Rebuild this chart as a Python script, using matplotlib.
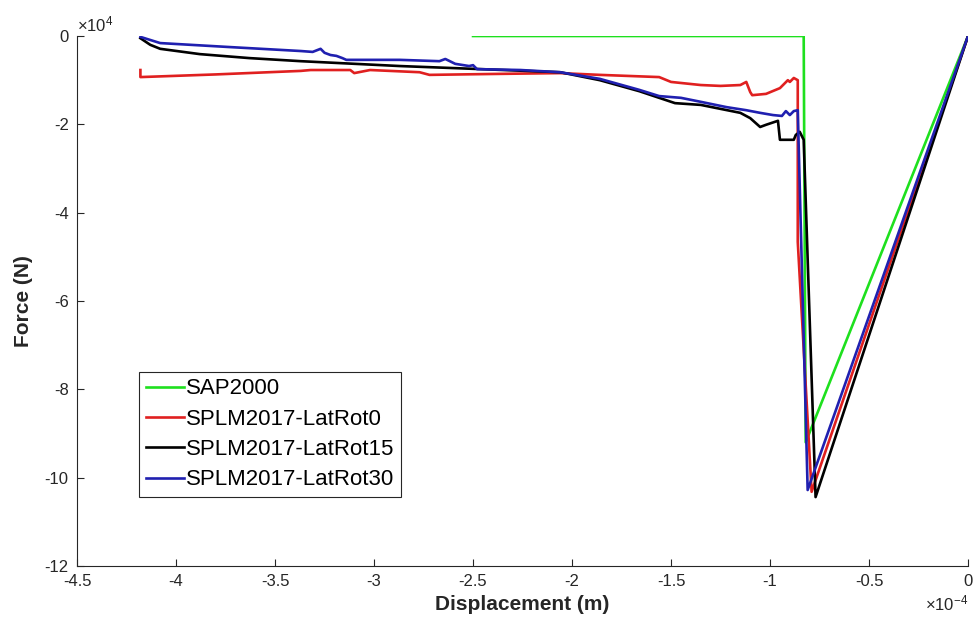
import matplotlib

matplotlib.use("Agg")
import matplotlib.pyplot as plt  # noqa: E402
from matplotlib.ticker import FuncFormatter  # noqa: E402

plt.rcParams["font.family"] = ["Liberation Sans", "DejaVu Sans"]
plt.rcParams["mathtext.fontset"] = "custom"
plt.rcParams["mathtext.rm"] = "Liberation Sans"
plt.rcParams["mathtext.it"] = "Liberation Sans"
plt.rcParams["axes.unicode_minus"] = False

# displacement in 1e-4 m, force in 1e4 N
SAP_X = [-2.50, -0.83, -0.82, 0.0]
SAP_Y = [0.0, 0.0, -9.2, 0.0]

ROT0_X = [-4.18, -4.18, -3.80, -3.37, -3.32, -3.12, -3.10, -3.02, -2.77, -2.72,
          -2.41, -2.06, -1.86, -1.56, -1.50, -1.35, -1.25, -1.15, -1.12, -1.10,
          -1.09, -1.02, -0.95, -0.91, -0.90, -0.88, -0.86, -0.86, -0.79, 0.0]
ROT0_Y = [-0.77, -0.93, -0.87, -0.79, -0.77, -0.77, -0.84, -0.77, -0.82, -0.88,
          -0.86, -0.84, -0.88, -0.93, -1.04, -1.11, -1.13, -1.11, -1.04, -1.27,
          -1.34, -1.31, -1.18, -1.00, -1.04, -0.95, -1.00, -4.66, -10.32, 0.0]

ROT15_X = [-4.18, -4.13, -4.08, -3.88, -3.63, -3.37, -2.87, -2.46, -2.06, -1.86,
           -1.66, -1.56, -1.48, -1.35, -1.15, -1.10, -1.05, -1.02, -0.96, -0.95,
           -0.88, -0.87, -0.85, -0.83, -0.77, 0.0]
ROT15_Y = [-0.05, -0.20, -0.29, -0.41, -0.50, -0.57, -0.68, -0.75, -0.82, -1.00,
           -1.25, -1.40, -1.52, -1.56, -1.74, -1.86, -2.06, -2.01, -1.92, -2.35,
           -2.35, -2.24, -2.17, -2.35, -10.44, 0.0]

ROT30_X = [-4.18, -4.08, -3.73, -3.37, -3.31, -3.27, -3.25, -3.22, -3.19, -3.16,
           -3.14, -2.87, -2.67, -2.64, -2.59, -2.52, -2.50, -2.48, -2.26, -2.06,
           -1.86, -1.66, -1.56, -1.45, -1.35, -1.22, -1.12, -1.05, -0.985, -0.94,
           -0.92, -0.90, -0.88, -0.86, -0.81, 0.0]
ROT30_Y = [-0.02, -0.16, -0.25, -0.34, -0.36, -0.29, -0.38, -0.43, -0.45, -0.50,
           -0.54, -0.54, -0.57, -0.52, -0.63, -0.68, -0.66, -0.75, -0.77, -0.82,
           -0.97, -1.22, -1.36, -1.40, -1.49, -1.61, -1.68, -1.74, -1.79, -1.81,
           -1.70, -1.79, -1.70, -1.68, -10.28, 0.0]

SERIES = [
    ("SAP2000", SAP_X, SAP_Y, "#1ee01e"),
    ("SPLM2017-LatRot0", ROT0_X, ROT0_Y, "#e02020"),
    ("SPLM2017-LatRot15", ROT15_X, ROT15_Y, "#000000"),
    ("SPLM2017-LatRot30", ROT30_X, ROT30_Y, "#2020b0"),
]
X_SCALE, Y_SCALE = 1e-4, 1e4
INK = "#262626"


def scaled(scale):
    # MATLAB-style tick labels: value / scale, shortest form, plain hyphen
    return FuncFormatter(lambda v, pos: f"{v / scale:g}" if abs(v) > 1e-12 * scale else "0")


fig = plt.figure(figsize=(9.79, 6.34), dpi=100, facecolor="white")
ax = fig.add_axes([0.0787, 0.1073, 0.9101, 0.8359])

for label, xs, ys, colour in SERIES:
    ax.plot([x * X_SCALE for x in xs], [y * Y_SCALE for y in ys],
            color=colour, lw=1.9, label=label)

ax.set_xlim(-4.5e-4, 0.0)
ax.set_ylim(-12e4, 0.0)
ax.set_xticks([i * 0.5e-4 for i in range(-9, 1)])
ax.set_yticks([i * 2e4 for i in range(-6, 1)])
xfmt, yfmt = scaled(X_SCALE), scaled(Y_SCALE)
xfmt.set_offset_string(r"$\times10^{-4}$")
yfmt.set_offset_string(r"$\times10^{4}$")
ax.xaxis.set_major_formatter(xfmt)
ax.yaxis.set_major_formatter(yfmt)
for axis in (ax.xaxis, ax.yaxis):
    axis.get_offset_text().set_fontsize(12)
    axis.get_offset_text().set_color("#555555")

for side in ("top", "right"):
    ax.spines[side].set_visible(False)
for side in ("left", "bottom"):
    ax.spines[side].set_color(INK)
    ax.spines[side].set_linewidth(0.8)
ax.tick_params(direction="in", length=5, width=0.8, colors=INK,
               labelsize=12, pad=6)

ax.set_xlabel("Displacement (m)", fontsize=15, fontweight="bold", color=INK,
              labelpad=4)
ax.set_ylabel("Force (N)", fontsize=15, fontweight="bold", color=INK,
              labelpad=8)

leg = ax.legend(loc="lower left", bbox_to_anchor=(0.0696, 0.130),
                borderaxespad=0, fontsize=16, frameon=True, fancybox=False,
                framealpha=1, edgecolor=INK, handlelength=1.7,
                handletextpad=0.1, labelspacing=0.42, borderpad=0.3)
leg.get_frame().set_linewidth(0.8)

fig.savefig("out.png", dpi=100, facecolor="white")
